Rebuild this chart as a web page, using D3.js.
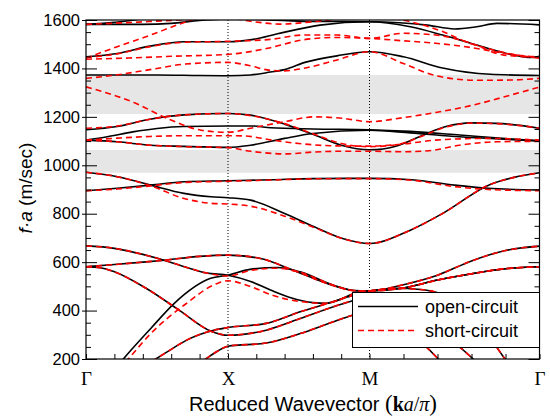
<!DOCTYPE html>
<html><head><meta charset="utf-8">
<script src="https://cdn.jsdelivr.net/npm/d3@7"></script>
<style>body{margin:0;background:#fff} svg{display:block}</style>
</head><body><svg id="c" width="550" height="416"></svg>
<script>
// ---------- data ----------
const symbolPoints = [0, 1, 2, 3];
const symbolLabels = ["Γ", "X", "M", "Γ"];
const kTicks = [0,0.2,0.4,0.6,0.8,1,1.2,1.4,1.6,1.8,2,2.2,2.4,2.6,2.8,3];
const freqMajorTicks = [200,400,600,800,1000,1200,1400,1600];
const freqMinorTicks = [250,300,350,450,500,550,650,700,750,850,900,950,1050,1100,1150,1250,1300,1350,1450,1500,1550];
const bandGaps = [[969,1063],[1212,1373]];
const legendLabels = ["open-circuit", "short-circuit"];

// open-circuit bands [k, f·a]
const oc1 = [[0,0],[0.263,200],[0.456,326],[0.62,429],[0.878,533],[1,546],[1.155,570],[1.344,578],[1.51,560],[1.745,505],[1.91,481],[2,481],[2.2,507],[2.4,546],[2.6,605],[2.8,648],[3,666]];
const oc2 = [[0,581],[0.2,590],[0.4,600],[0.55,608],[0.8,624],[1,629],[1.23,615],[1.46,567],[1.7,512],[1.89,483],[2,481],[2.2,493],[2.4,526],[2.6,552],[2.8,573],[3,581]];
const oc3 = [[0,667],[0.2,657],[0.4,632],[0.55,608],[0.7,580],[0.85,555],[1,546],[1.16,520],[1.3,485],[1.45,452],[1.6,433],[1.7,430],[1.8,448],[1.88,468],[2,481],[2.15,492],[2.3,487],[2.42,468],[2.55,385],[2.65,318],[2.748,248],[2.797,200],[2.9,100],[3,0]];
const oc4 = [[0,581],[0.1,577],[0.2,560],[0.42,493],[0.66,400],[0.88,315],[1,298],[1.27,319],[1.51,367],[1.74,415],[1.88,441],[2,460],[2.15,400],[2.3,335],[2.45,285],[2.532,248],[2.61,200],[2.8,80],[3,0]];
const oc5 = [[0,0],[0.486,198],[0.6,240],[0.709,278],[0.9,319],[1,330],[1.27,347],[1.51,395],[1.74,436],[1.88,462],[2,481],[2.2,493],[2.4,526],[2.6,552],[2.8,573],[3,581]];
const oc6 = [[0,0],[0.6,110],[0.83,195],[0.925,232],[1,253],[1.27,266],[1.51,305],[1.74,353],[1.88,381],[2,400],[2.1,360],[2.2,315],[2.337,248],[2.405,200],[2.6,90],[3,0]];
const ocG = [[0,895],[0.22,905],[0.456,918],[0.69,932],[1,936],[1.3,940],[1.6,945],[2,946],[2.25,940],[2.5,918],[2.7,905],[3,898]];
const ocH = [[0,971],[0.22,953],[0.456,918],[0.69,884],[0.88,870],[1,866],[1.16,856],[1.4,801],[1.61,746],[1.81,698],[2,677],[2.24,732],[2.43,801],[2.71,921],[2.85,950],[3,969]];
const ocI = [[0,1147],[0.22,1160],[0.45,1190],[0.69,1208],[1,1214],[1.16,1207],[1.4,1170],[1.6,1128],[1.8,1083],[2,1064],[2.16,1080],[2.3,1120],[2.45,1160],[2.6,1175],[2.75,1173],[3,1153]];
const ocJ = [[0,1104],[0.15,1118],[0.33,1138],[0.5,1152],[0.685,1160],[1,1162],[1.18,1162],[1.3,1155],[1.6,1150],[2,1147],[2.24,1140],[2.53,1125],[2.8,1110],[3,1101]];
const ocK = [[0,1104],[0.22,1097],[0.45,1083],[0.69,1078],[1,1074],[1.16,1083],[1.4,1111],[1.6,1131],[2,1145],[2.24,1134],[2.53,1118],[3,1101]];
const ocL = [[0,1373],[0.5,1373],[0.8,1371],[1,1370],[1.16,1373],[1.3,1385],[1.4,1395],[1.55,1426],[1.77,1452],[2,1469],[2.2,1448],[2.43,1402],[2.71,1376],[3,1371]];
const ocN = [[0,1448],[0.22,1462],[0.45,1492],[0.69,1510],[1,1510],[1.18,1520],[1.35,1543],[1.65,1579],[2,1593],[2.24,1572],[2.43,1538],[2.63,1497],[2.83,1458],[2.95,1445],[3,1450]];
const ocP = [[0,1582],[0.4,1582],[0.6,1586],[0.8,1598],[1,1604],[1.2,1602],[1.39,1598],[1.6,1594],[2,1593],[2.34,1579],[2.5,1563],[2.63,1572],[2.75,1586],[3,1580]];
const ocQ = [[0,1582],[0.2,1590],[0.34,1600],[0.6,1640],[1.5,1700],[3,1680]];

// short-circuit bands [k, f·a]
const sc1 = [[0,0],[0.298,200],[0.456,305],[0.69,422],[0.925,512],[1,523],[1.155,500],[1.32,462],[1.5,438],[1.7,430],[1.8,448],[1.88,468],[2,481],[2.15,492],[2.3,487],[2.42,468],[2.55,385],[2.65,318],[2.748,248],[2.797,200],[2.9,100],[3,0]];
const sc2 = [[0,667],[0.2,657],[0.4,632],[0.55,608],[0.7,580],[0.85,555],[1,543],[1.155,565],[1.344,575],[1.51,558],[1.745,505],[1.91,481],[2,481],[2.2,507],[2.4,546],[2.6,605],[2.8,648],[3,666]];
const scG = [[0,895],[0.22,902],[0.456,915],[0.69,929],[1,934],[1.3,939],[1.6,944],[2,945],[2.25,938],[2.5,912],[2.7,900],[3,895]];
const scH = [[0,971],[0.22,953],[0.456,915],[0.69,863],[0.88,843],[1,840],[1.16,831],[1.4,790],[1.61,743],[1.81,697],[2,677],[2.24,732],[2.43,801],[2.71,921],[2.85,950],[3,969]];
const scI = [[0,1153],[0.22,1162],[0.45,1190],[0.69,1208],[1,1214],[1.16,1205],[1.4,1172],[1.6,1130],[1.8,1090],[2,1077],[2.16,1085],[2.3,1118],[2.45,1158],[2.6,1174],[2.75,1172],[3,1153]];
const scJ = [[0,1104],[0.22,1112],[0.45,1119],[0.69,1122],[1,1122],[1.12,1121],[1.3,1105],[1.5,1090],[1.77,1080],[2,1079],[2.2,1088],[2.39,1104],[2.69,1111],[3,1104]];
const scK = [[0,1104],[0.22,1097],[0.45,1083],[0.69,1077],[1,1073],[1.16,1058],[1.4,1047],[1.61,1055],[1.8,1058],[2,1058],[2.2,1056],[2.35,1060],[2.53,1083],[2.75,1097],[3,1099]];
const scR = [[0,1324],[0.35,1256],[0.57,1194],[0.81,1145],[1,1136],[1.16,1153],[1.4,1180],[1.61,1200],[1.81,1194],[2,1180],[2.2,1197],[2.39,1218],[2.63,1252],[2.83,1290],[3,1323]];
const scL = [[0,1359],[0.2,1372],[0.45,1395],[0.7,1418],[1,1425],[1.15,1412],[1.3,1392],[1.4,1390],[1.53,1400],[1.77,1435],[2,1469],[2.2,1420],[2.39,1370],[2.63,1351],[2.83,1352],[3,1359]];
const scF = [[0,1438],[0.3,1443],[0.6,1450],[1,1458],[1.28,1483],[1.53,1518],[1.77,1528],[2,1524],[2.2,1514],[2.39,1504],[2.59,1487],[2.8,1462],[3,1442]];
const scN = [[0,1445],[0.22,1460],[0.45,1490],[0.69,1508],[1,1512],[1.3,1520],[1.53,1538],[1.77,1538],[2,1524],[2.2,1545],[2.39,1538],[2.59,1506],[2.79,1455],[3,1446]];
const scS = [[0,1442],[0.22,1490],[0.456,1538],[0.64,1579],[0.78,1607],[1,1650],[1.5,1690],[1.9,1660],[2.14,1607],[2.24,1593],[2.43,1552],[2.59,1504],[2.73,1476],[2.87,1455],[3,1448]];
const scT = [[0,1582],[0.29,1589],[0.55,1597],[0.8,1604],[1,1607],[1.18,1593],[1.37,1583],[1.55,1590],[1.77,1604],[2,1620],[3,1640]];

const openBands = [oc1, oc2, oc3, oc4, oc5, oc6, ocG, ocH, ocI, ocJ, ocK, ocL, ocN, ocP, ocQ];
const shortBands = [sc1, sc2, oc2, oc4, oc5, oc6, scG, scH, scI, scJ, scK, scR, scL, scF, scN, scS, scT];

// ---------- drawing ----------
const SANS = "'Liberation Sans', Arial, Helvetica, sans-serif";
const SERIF = "'Liberation Serif', 'Times New Roman', serif";
const svg = d3.select("#c");
const x = d3.scaleLinear().domain(symbolPoints).range([86, 228, 369.5, 539.5]);
const y = d3.scaleLinear().domain([200, 1600]).range([359, 20]);
const X0 = x(0), X1 = x(3), Y0 = y(1600), Y1 = y(200);

svg.append("defs").append("clipPath").attr("id", "plot")
  .append("rect").attr("x", X0).attr("y", Y0).attr("width", X1 - X0).attr("height", Y1 - Y0);

svg.append("g").selectAll("rect").data(bandGaps).join("rect")
  .attr("x", X0).attr("width", X1 - X0)
  .attr("y", d => y(d[1])).attr("height", d => y(d[0]) - y(d[1]))
  .attr("fill", "#e6e6e6");

svg.append("g").selectAll("line").data([1, 2]).join("line")
  .attr("x1", d => x(d)).attr("x2", d => x(d)).attr("y1", Y0).attr("y2", Y1)
  .attr("stroke", "#000").attr("stroke-width", 1).attr("stroke-dasharray", "1,2");

const line = d3.line().x(d => x(d[0])).y(d => y(d[1])).curve(d3.curveMonotoneX);
const plot = svg.append("g").attr("clip-path", "url(#plot)");
plot.selectAll("path.oc").data(openBands).join("path").attr("class", "oc")
  .attr("d", line).attr("fill", "none").attr("stroke", "#000").attr("stroke-width", 1.6);
plot.selectAll("path.sc").data(shortBands).join("path").attr("class", "sc")
  .attr("d", line).attr("fill", "none").attr("stroke", "#ff0000").attr("stroke-width", 1.6)
  .attr("stroke-dasharray", "6,4");

// axes
function clean(g) { g.select(".domain").remove(); g.selectAll("line").attr("stroke", "#000"); }
svg.append("g").attr("transform", `translate(${X0},0)`)
  .call(d3.axisLeft(y).tickValues(freqMajorTicks).tickSize(4).tickPadding(2).tickFormat(d3.format("d")))
  .call(clean).call(g => g.selectAll("text").attr("font-family", SANS).attr("font-size", 16.5).attr("fill", "#000"));
svg.append("g").attr("transform", `translate(${X0},0)`)
  .call(d3.axisLeft(y).tickValues(freqMajorTicks).tickSize(-11).tickFormat("")).call(clean);
svg.append("g").attr("transform", `translate(${X0},0)`)
  .call(d3.axisLeft(y).tickValues(freqMinorTicks).tickSize(-5).tickFormat("")).call(clean);
svg.append("g").attr("transform", `translate(${X1},0)`)
  .call(d3.axisRight(y).tickValues(freqMajorTicks).tickSize(-11).tickFormat("")).call(clean);
svg.append("g").attr("transform", `translate(${X1},0)`)
  .call(d3.axisRight(y).tickValues(freqMinorTicks).tickSize(-5).tickFormat("")).call(clean);
svg.append("g").attr("transform", `translate(0,${Y1})`)
  .call(d3.axisBottom(x).tickValues(kTicks).tickSize(-5).tickFormat("")).call(clean);
svg.append("g").attr("transform", `translate(0,${Y1})`)
  .call(d3.axisBottom(x).tickValues(symbolPoints).tickSize(0).tickPadding(13).tickFormat((d, i) => symbolLabels[i]))
  .call(clean).call(g => g.selectAll("text").attr("font-family", SERIF).attr("font-size", 19).attr("fill", "#000"));

svg.append("rect").attr("x", X0).attr("y", Y0).attr("width", X1 - X0).attr("height", Y1 - Y0)
  .attr("fill", "none").attr("stroke", "#000").attr("stroke-width", 1.2);

// axis titles
const xt = svg.append("text").attr("x", 313).attr("y", 411).attr("text-anchor", "middle")
  .attr("font-family", SANS).attr("font-size", 20).attr("fill", "#000");
xt.append("tspan").text("Reduced Wavevector ");
xt.append("tspan").attr("font-family", SERIF).attr("font-size", 23).text("(");
xt.append("tspan").attr("font-family", SERIF).attr("font-weight", "bold").text("k");
xt.append("tspan").attr("font-family", SERIF).attr("font-style", "italic").text("a");
xt.append("tspan").attr("font-family", SERIF).text("/");
xt.append("tspan").attr("font-family", SERIF).attr("font-style", "italic").text("π");
xt.append("tspan").attr("font-family", SERIF).attr("font-size", 23).text(")");

const yt = svg.append("text").attr("transform", "translate(32,188) rotate(-90)").attr("text-anchor", "middle")
  .attr("font-family", SANS).attr("font-size", 19).attr("fill", "#000");
yt.append("tspan").attr("font-style", "italic").text("f·a");
yt.append("tspan").text(" (m/sec)");

// legend
const lg = svg.append("g");
lg.append("rect").attr("x", 352.5).attr("y", 292.5).attr("width", X1 - 352.5).attr("height", 55)
  .attr("fill", "#fff").attr("stroke", "#000").attr("stroke-width", 1);
const legendStyles = [{stroke: "#000", dash: null}, {stroke: "#ff0000", dash: "6,4"}];
legendLabels.forEach((lab, i) => {
  const yy = 306.5 + i * 24;
  lg.append("line").attr("x1", 358).attr("x2", 418).attr("y1", yy).attr("y2", yy)
    .attr("stroke", legendStyles[i].stroke).attr("stroke-width", 1.6)
    .attr("stroke-dasharray", legendStyles[i].dash);
  lg.append("text").attr("x", 425).attr("y", yy).attr("dy", "0.35em")
    .attr("font-family", SANS).attr("font-size", 18).attr("fill", "#000").text(lab);
});
</script>
</body></html>
